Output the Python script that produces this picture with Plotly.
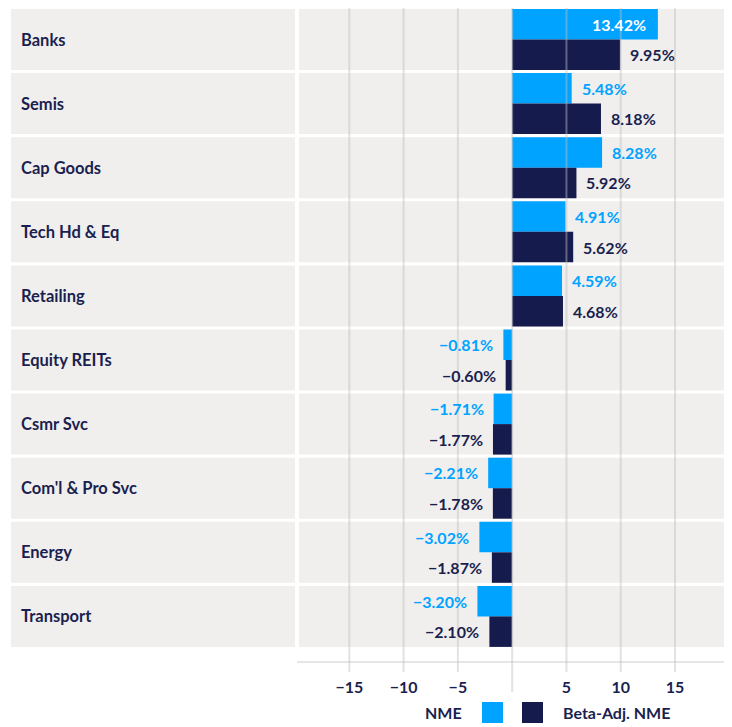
import plotly.graph_objects as go

categories = ["Banks", "Semis", "Cap Goods", "Tech Hd & Eq", "Retailing",
              "Equity REITs", "Csmr Svc", "Com'l & Pro Svc", "Energy", "Transport"]
nme = [13.42, 5.48, 8.28, 4.91, 4.59, -0.81, -1.71, -2.21, -3.02, -3.20]
beta_adj = [9.95, 8.18, 5.92, 5.62, 4.68, -0.60, -1.77, -1.78, -1.87, -2.10]
tick_vals = [-15, -10, -5, 5, 10, 15]
grid_vals = [-15, -10, -5, 0, 5, 10, 15]
series_names = ["NME", "Beta-Adj. NME"]
nme_inside = [True] + [False] * 9

NAVY = "#161b4e"
TEXT = "#1b1f4f"
BLUE = "#00a3ff"
BAND = "#f0efee"
FONT = "Lato"

# page body margin of 8px: the figure starts at screen (8, 8)
OFF = 8
W, H = 732 - OFF, 727 - OFF
SL, SR, ST, SB = 297, 728, 9, 661          # plot area in screen pixels
ML, MR, MT, MB = SL - OFF, W - (SR - OFF), ST - OFF, H - (SB - OFF)
PW = SR - SL
PH = SB - ST


def px_x(p):
    return (p - SL) / PW


def px_y(p):
    return (SB - p) / PH


def fmt(v):
    s = f"{abs(v):.2f}%"
    return ("\u2212" + s) if v < 0 else s


fig = go.Figure()
fig.add_trace(go.Bar(
    y=list(range(len(categories))), x=nme, orientation="h", name=series_names[0],
    marker=dict(color=BLUE, line=dict(width=0)), hoverinfo="skip",
))
fig.add_trace(go.Bar(
    y=list(range(len(categories))), x=beta_adj, orientation="h", name=series_names[1],
    marker=dict(color=NAVY, line=dict(width=0)), hoverinfo="skip",
))

shapes = []
for i, _ in enumerate(categories):
    shapes.append(dict(type="rect", xref="paper", yref="y", layer="below",
                       x0=px_x(11), x1=px_x(295), y0=i - 0.476, y1=i + 0.476,
                       fillcolor=BAND, line=dict(width=0)))
    shapes.append(dict(type="rect", xref="paper", yref="y", layer="below",
                       x0=px_x(299), x1=px_x(727), y0=i - 0.476, y1=i + 0.476,
                       fillcolor=BAND, line=dict(width=0)))
for g in grid_vals:
    shapes.append(dict(type="line", xref="x", yref="paper", layer="above",
                       x0=g, x1=g, y0=px_y(8), y1=px_y(692 if g == 0 else 672),
                       line=dict(color="rgba(190,190,190,0.45)", width=2)))

# legend
shapes.append(dict(type="rect", xref="paper", yref="paper",
                   x0=px_x(482), x1=px_x(503), y0=px_y(702), y1=px_y(723),
                   fillcolor=BLUE, line=dict(width=0)))
shapes.append(dict(type="rect", xref="paper", yref="paper",
                   x0=px_x(522), x1=px_x(543), y0=px_y(702), y1=px_y(723),
                   fillcolor=NAVY, line=dict(width=0)))

LBL = dict(size=16, family=FONT, weight="bold")
annotations = []
for i, c in enumerate(categories):
    annotations.append(dict(x=px_x(21), xref="paper", y=i, yref="y",
                            text=c, showarrow=False, xanchor="left", xshift=-2,
                            font=dict(LBL, color=TEXT, size=16.5)))
    # value labels
    v = nme[i]
    if nme_inside[i]:
        annotations.append(dict(x=v, y=i - 0.238, xref="x", yref="y", text=fmt(v),
                                showarrow=False, xanchor="right", xshift=-10,
                                font=dict(LBL, color="white")))
    else:
        annotations.append(dict(x=v, y=i - 0.238, xref="x", yref="y", text=fmt(v),
                                showarrow=False,
                                xanchor="left" if v >= 0 else "right",
                                xshift=8 if v >= 0 else -8,
                                font=dict(LBL, color=BLUE)))
    b = beta_adj[i]
    annotations.append(dict(x=b, y=i + 0.238, xref="x", yref="y", text=fmt(b),
                            showarrow=False,
                            xanchor="left" if b >= 0 else "right",
                            xshift=8 if b >= 0 else -8,
                            font=dict(LBL, color=TEXT)))

annotations.append(dict(x=px_x(464), xref="paper", y=px_y(712), yref="paper",
                        text=series_names[0], showarrow=False,
                        xanchor="right", yanchor="middle",
                        font=dict(LBL, color=TEXT)))
annotations.append(dict(x=px_x(561), xref="paper", y=px_y(712), yref="paper",
                        text=series_names[1], showarrow=False,
                        xanchor="left", yanchor="middle",
                        font=dict(LBL, color=TEXT)))

fig.update_layout(
    width=W, height=H,
    margin=dict(l=ML, r=MR, t=MT, b=MB, pad=0),
    paper_bgcolor="white", plot_bgcolor="white",
    barmode="group", bargap=0.048, bargroupgap=0,
    showlegend=False,
    shapes=shapes, annotations=annotations,
    font=dict(family=FONT, color=TEXT, size=16, weight="bold"),
    xaxis=dict(range=[-19.82, 19.88], tickvals=tick_vals,
               showgrid=False, zeroline=False,
               showline=True, linecolor="#e6e6e6", linewidth=2,
               ticks="outside", ticklen=11, tickcolor="rgba(0,0,0,0)",
               tickfont=dict(LBL, color=TEXT),
               fixedrange=True),
    yaxis=dict(range=[9.6958, -0.4758], showticklabels=False, showgrid=False,
               zeroline=False, showline=False, ticks="", fixedrange=True),
)

fig.write_html("out.html")
